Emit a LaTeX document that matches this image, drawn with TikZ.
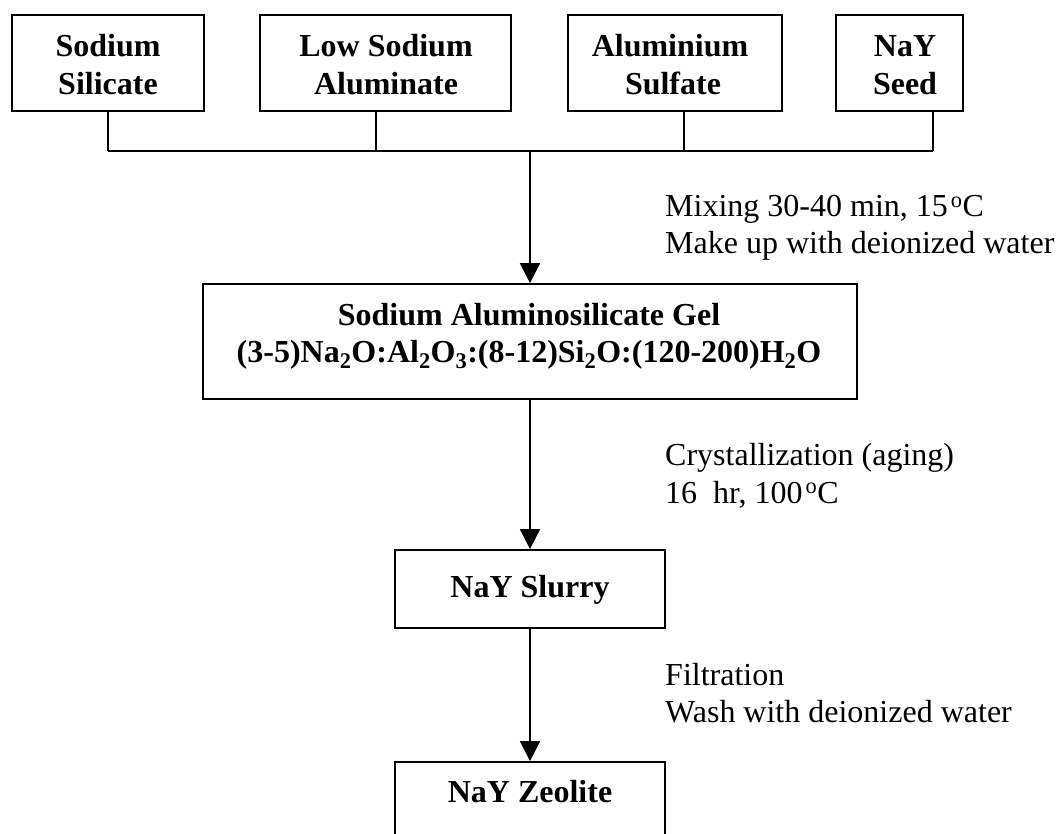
\documentclass[tikz,border=0pt]{standalone}
\usepackage{fontspec}
\setmainfont{Liberation Serif}
\usetikzlibrary{arrows.meta}
\tikzset{
  box/.style={draw, rectangle, line width=1.8pt, inner sep=0pt},
  btxt/.style={font=\bfseries\fontsize{32}{38}\selectfont, inner sep=0pt, anchor=base},
  ltxt/.style={font=\fontsize{32}{38}\selectfont, inner sep=0pt, anchor=base west},
  conn/.style={line width=1.8pt},
  arr/.style={line width=1.8pt, -{Triangle[width=20pt,length=20pt]}}
}
\begin{document}
\begin{tikzpicture}[x=1pt,y=-1pt]
\useasboundingbox (0,0) rectangle (1056,834);
\clip (0,0) rectangle (1056,834);
% source boxes
\node[box, minimum width=192pt, minimum height=96pt] (b1) at (108,63) {};
\node[box, minimum width=251pt, minimum height=96pt] (b2) at (385.5,63) {};
\node[box, minimum width=214pt, minimum height=96pt] (b3) at (675,63) {};
\node[box, minimum width=127pt, minimum height=96pt] (b4) at (899.5,63) {};
\node[btxt] (t1a) at (108,57) {Sodium};
\node[btxt] (t1b) at (108,95) {Silicate};
\node[btxt] (t2a) at (386,57) {Low Sodium};
\node[btxt] (t2b) at (386,95) {Aluminate};
\node[btxt] (t3a) at (670,57) {Aluminium};
\node[btxt] (t3b) at (673,95) {Sulfate};
\node[btxt] (t4a) at (905,57) {NaY};
\node[btxt] (t4b) at (905,95) {Seed};
% process boxes
\node[box, minimum width=654pt, minimum height=115pt] (gel) at (530,341.5) {};
\node[btxt] (gela) at (529,325) {Sodium Aluminosilicate Gel};
\node[btxt] (gelb) at (529,362) {(3-5)Na\textsubscript{2}O:Al\textsubscript{2}O\textsubscript{3}:(8-12)Si\textsubscript{2}O:(120-200)H\textsubscript{2}O};
\node[box, minimum width=270pt, minimum height=78pt] (slurry) at (530,589) {};
\node[btxt] (slurryt) at (530,597) {NaY Slurry};
\node[box, minimum width=270pt, minimum height=78pt] (zeo) at (530,801) {};
\node[btxt] (zeot) at (530,802) {NaY Zeolite};
% junctions
\coordinate (j1) at (108,151);
\coordinate (j2) at (376,151);
\coordinate (j3) at (684,151);
\coordinate (j4) at (933,151);
\coordinate (jm) at (530,151);
\draw[conn] (b1.south -| j1) -- (j1);
\draw[conn] (b2.south -| j2) -- (j2);
\draw[conn] (b3.south -| j3) -- (j3);
\draw[conn] (b4.south -| j4) -- (j4);
\draw[conn] (j1) -- (j4);
\draw[arr] (jm) -- (gel.north);
\draw[arr] (gel.south) -- (slurry.north);
\draw[arr] (slurry.south) -- (zeo.north);
% step labels
\node[ltxt] (m1) at (665,217) {Mixing 30-40 min, 15\kern3pt\textsuperscript{o}C};
\node[ltxt] (m2) at (665,253) {Make up with deionized water};
\node[ltxt] (c1) at (665,465) {Crystallization (aging)};
\node[ltxt] (c2) at (665,503) {16\ \ hr, 100\kern3pt\textsuperscript{o}C};
\node[ltxt] (f1) at (665,685) {Filtration};
\node[ltxt] (f2) at (665,722) {Wash with deionized water};
\end{tikzpicture}
\end{document}
